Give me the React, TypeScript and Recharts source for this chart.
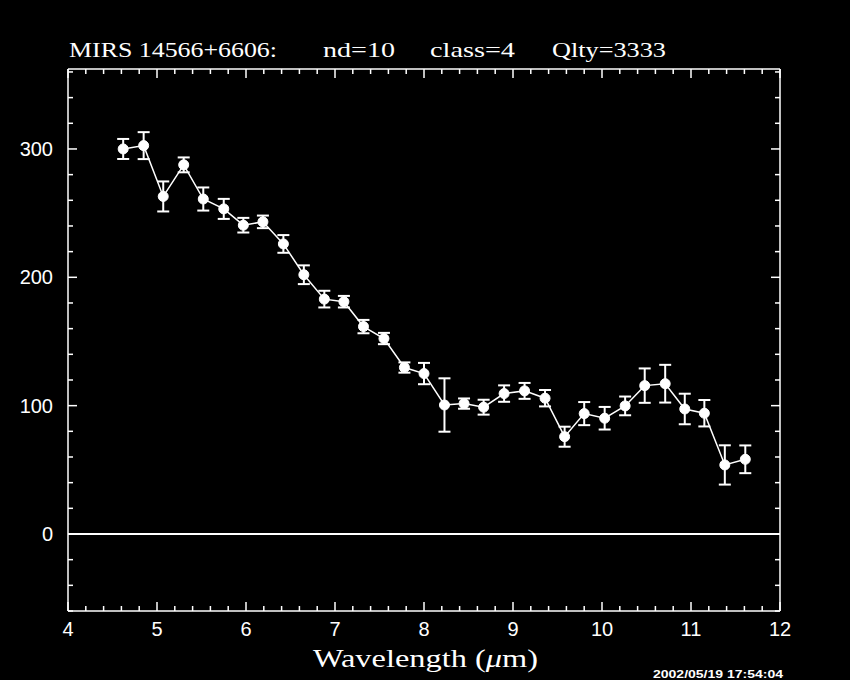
import React from "react";
import {
  ComposedChart,
  Line,
  XAxis,
  YAxis,
  ErrorBar,
  ReferenceLine,
} from "recharts";

// wavelength (um), flux, 1-sigma error
const wavelengths = [
  4.62, 4.85, 5.07, 5.3, 5.52, 5.75, 5.97, 6.19, 6.42, 6.65, 6.88, 7.1, 7.32,
  7.55, 7.78, 8.0, 8.23, 8.45, 8.67, 8.9, 9.13, 9.36, 9.58, 9.8, 10.03, 10.26,
  10.48, 10.71, 10.93, 11.15, 11.38, 11.61,
];
const fluxes = [
  300, 302.6, 263, 287.6, 261, 253.3, 240.6, 243.2, 226, 202, 183, 181, 161.6,
  152.3, 129.7, 125, 100.5, 101.6, 98.8, 109.4, 111.5, 105.8, 75.8, 93.8, 90.2,
  99.8, 115.6, 117.1, 97.4, 94.1, 53.8, 58.2,
];
const errors = [
  7.8, 10.5, 11.7, 5.8, 9, 7.8, 5.7, 4.9, 6.9, 7.3, 6.5, 4.5, 5.2, 4.4, 4, 8.3,
  20.8, 4, 5.8, 6.4, 6.2, 6.4, 7.8, 9, 8.8, 7.3, 13.4, 14.7, 11.9, 10.3, 15.3,
  10.8,
];

const xMajor = [4, 5, 6, 7, 8, 9, 10, 11, 12];
const yMajor = [0, 100, 200, 300];

const xTicks = Array.from({ length: 41 }, (_, i) => Math.round((4 + i * 0.2) * 10) / 10);
const yTicks = Array.from({ length: 22 }, (_, i) => -60 + i * 20);

const data = wavelengths.map((w, i) => ({ w, v: fluxes[i], err: errors[i] }));

const W = "#ffffff";

const BottomTick = (props: any) => {
  const { x, y, payload } = props;
  const major = xMajor.includes(payload.value);
  return (
    <g>
      <line x1={x} y1={y} x2={x} y2={y - (major ? 9 : 5)} stroke={W} strokeWidth={1.5} />
      {major && (
        <text
          x={x}
          y={y + 25}
          textAnchor="middle"
          fill={W}
          fontSize={20}
          fontFamily="Liberation Sans, Arial, sans-serif"
        >
          {payload.value}
        </text>
      )}
    </g>
  );
};

const TopTick = (props: any) => {
  const { x, y, payload } = props;
  const major = xMajor.includes(payload.value);
  return <line x1={x} y1={y} x2={x} y2={y + (major ? 9 : 5)} stroke={W} strokeWidth={1.5} />;
};

const LeftTick = (props: any) => {
  const { x, y, payload } = props;
  const major = yMajor.includes(payload.value);
  return (
    <g>
      <line x1={x} y1={y} x2={x + (major ? 9 : 5)} y2={y} stroke={W} strokeWidth={1.5} />
      {major && (
        <text
          x={x - 15}
          y={y + 7}
          textAnchor="end"
          fill={W}
          fontSize={20}
          fontFamily="Liberation Sans, Arial, sans-serif"
        >
          {payload.value}
        </text>
      )}
    </g>
  );
};

const RightTick = (props: any) => {
  const { x, y, payload } = props;
  const major = yMajor.includes(payload.value);
  return <line x1={x} y1={y} x2={x - (major ? 9 : 5)} y2={y} stroke={W} strokeWidth={1.5} />;
};

const serif = "Liberation Serif, Times New Roman, serif";

export default function App() {
  return (
    <div
      style={{
        position: "absolute",
        left: 0,
        top: 0,
        width: 850,
        height: 680,
        background: "#000",
        overflow: "hidden",
      }}
    >
      <ComposedChart
        width={850}
        height={680}
        data={data}
        margin={{ top: 0, right: 0, bottom: 0, left: 0 }}
      >
        <XAxis
          xAxisId="b"
          dataKey="w"
          type="number"
          domain={[4, 12]}
          ticks={xTicks}
          interval={0}
          height={69}
          tickSize={0}
          tickMargin={0}
          axisLine={{ stroke: W, strokeWidth: 1.5 }}
          tickLine={false}
          tick={<BottomTick />}
          allowDataOverflow
        />
        <XAxis
          xAxisId="t"
          orientation="top"
          dataKey="w"
          type="number"
          domain={[4, 12]}
          ticks={xTicks}
          interval={0}
          height={69}
          tickSize={0}
          tickMargin={0}
          axisLine={{ stroke: W, strokeWidth: 1.5 }}
          tickLine={false}
          tick={<TopTick />}
          allowDataOverflow
        />
        <YAxis
          yAxisId="l"
          type="number"
          domain={[-60, 362.3]}
          ticks={yTicks}
          interval={0}
          width={68}
          tickSize={0}
          tickMargin={0}
          axisLine={{ stroke: W, strokeWidth: 1.5 }}
          tickLine={false}
          tick={<LeftTick />}
          allowDataOverflow
        />
        <YAxis
          yAxisId="r"
          orientation="right"
          type="number"
          domain={[-60, 362.3]}
          ticks={yTicks}
          interval={0}
          width={70}
          tickSize={0}
          tickMargin={0}
          axisLine={{ stroke: W, strokeWidth: 1.5 }}
          tickLine={false}
          tick={<RightTick />}
          allowDataOverflow
        />
        <ReferenceLine xAxisId="b" yAxisId="l" y={0} stroke={W} strokeWidth={2} />
        <Line
          xAxisId="b"
          yAxisId="l"
          dataKey="v"
          stroke={W}
          strokeWidth={1.5}
          dot={{ r: 5, fill: W, stroke: W, strokeWidth: 1 }}
          activeDot={false}
          isAnimationActive={false}
        >
          <ErrorBar
            dataKey="err"
            direction="y"
            width={6}
            stroke={W}
            strokeWidth={2}
            isAnimationActive={false}
          />
        </Line>
        <text x={69} y={57} fill={W} fontSize={22} fontFamily={serif} textLength={208} lengthAdjust="spacingAndGlyphs">
          MIRS 14566+6606:
        </text>
        <text x={323} y={57} fill={W} fontSize={22} fontFamily={serif} textLength={72} lengthAdjust="spacingAndGlyphs">
          nd=10
        </text>
        <text x={430} y={57} fill={W} fontSize={22} fontFamily={serif} textLength={85} lengthAdjust="spacingAndGlyphs">
          class=4
        </text>
        <text x={552} y={57} fill={W} fontSize={22} fontFamily={serif} textLength={114} lengthAdjust="spacingAndGlyphs">
          Qlty=3333
        </text>
        <text x={313} y={667} fill={W} fontSize={26} fontFamily={serif} textLength={225} lengthAdjust="spacingAndGlyphs">
          Wavelength (<tspan fontStyle="italic">μ</tspan>m)
        </text>
        <text x={653} y={678} fill={W} fontSize={10} fontWeight="bold" fontFamily="Liberation Sans, Arial, sans-serif" textLength={130} lengthAdjust="spacingAndGlyphs">
          2002/05/19 17:54:04
        </text>
      </ComposedChart>
    </div>
  );
}
